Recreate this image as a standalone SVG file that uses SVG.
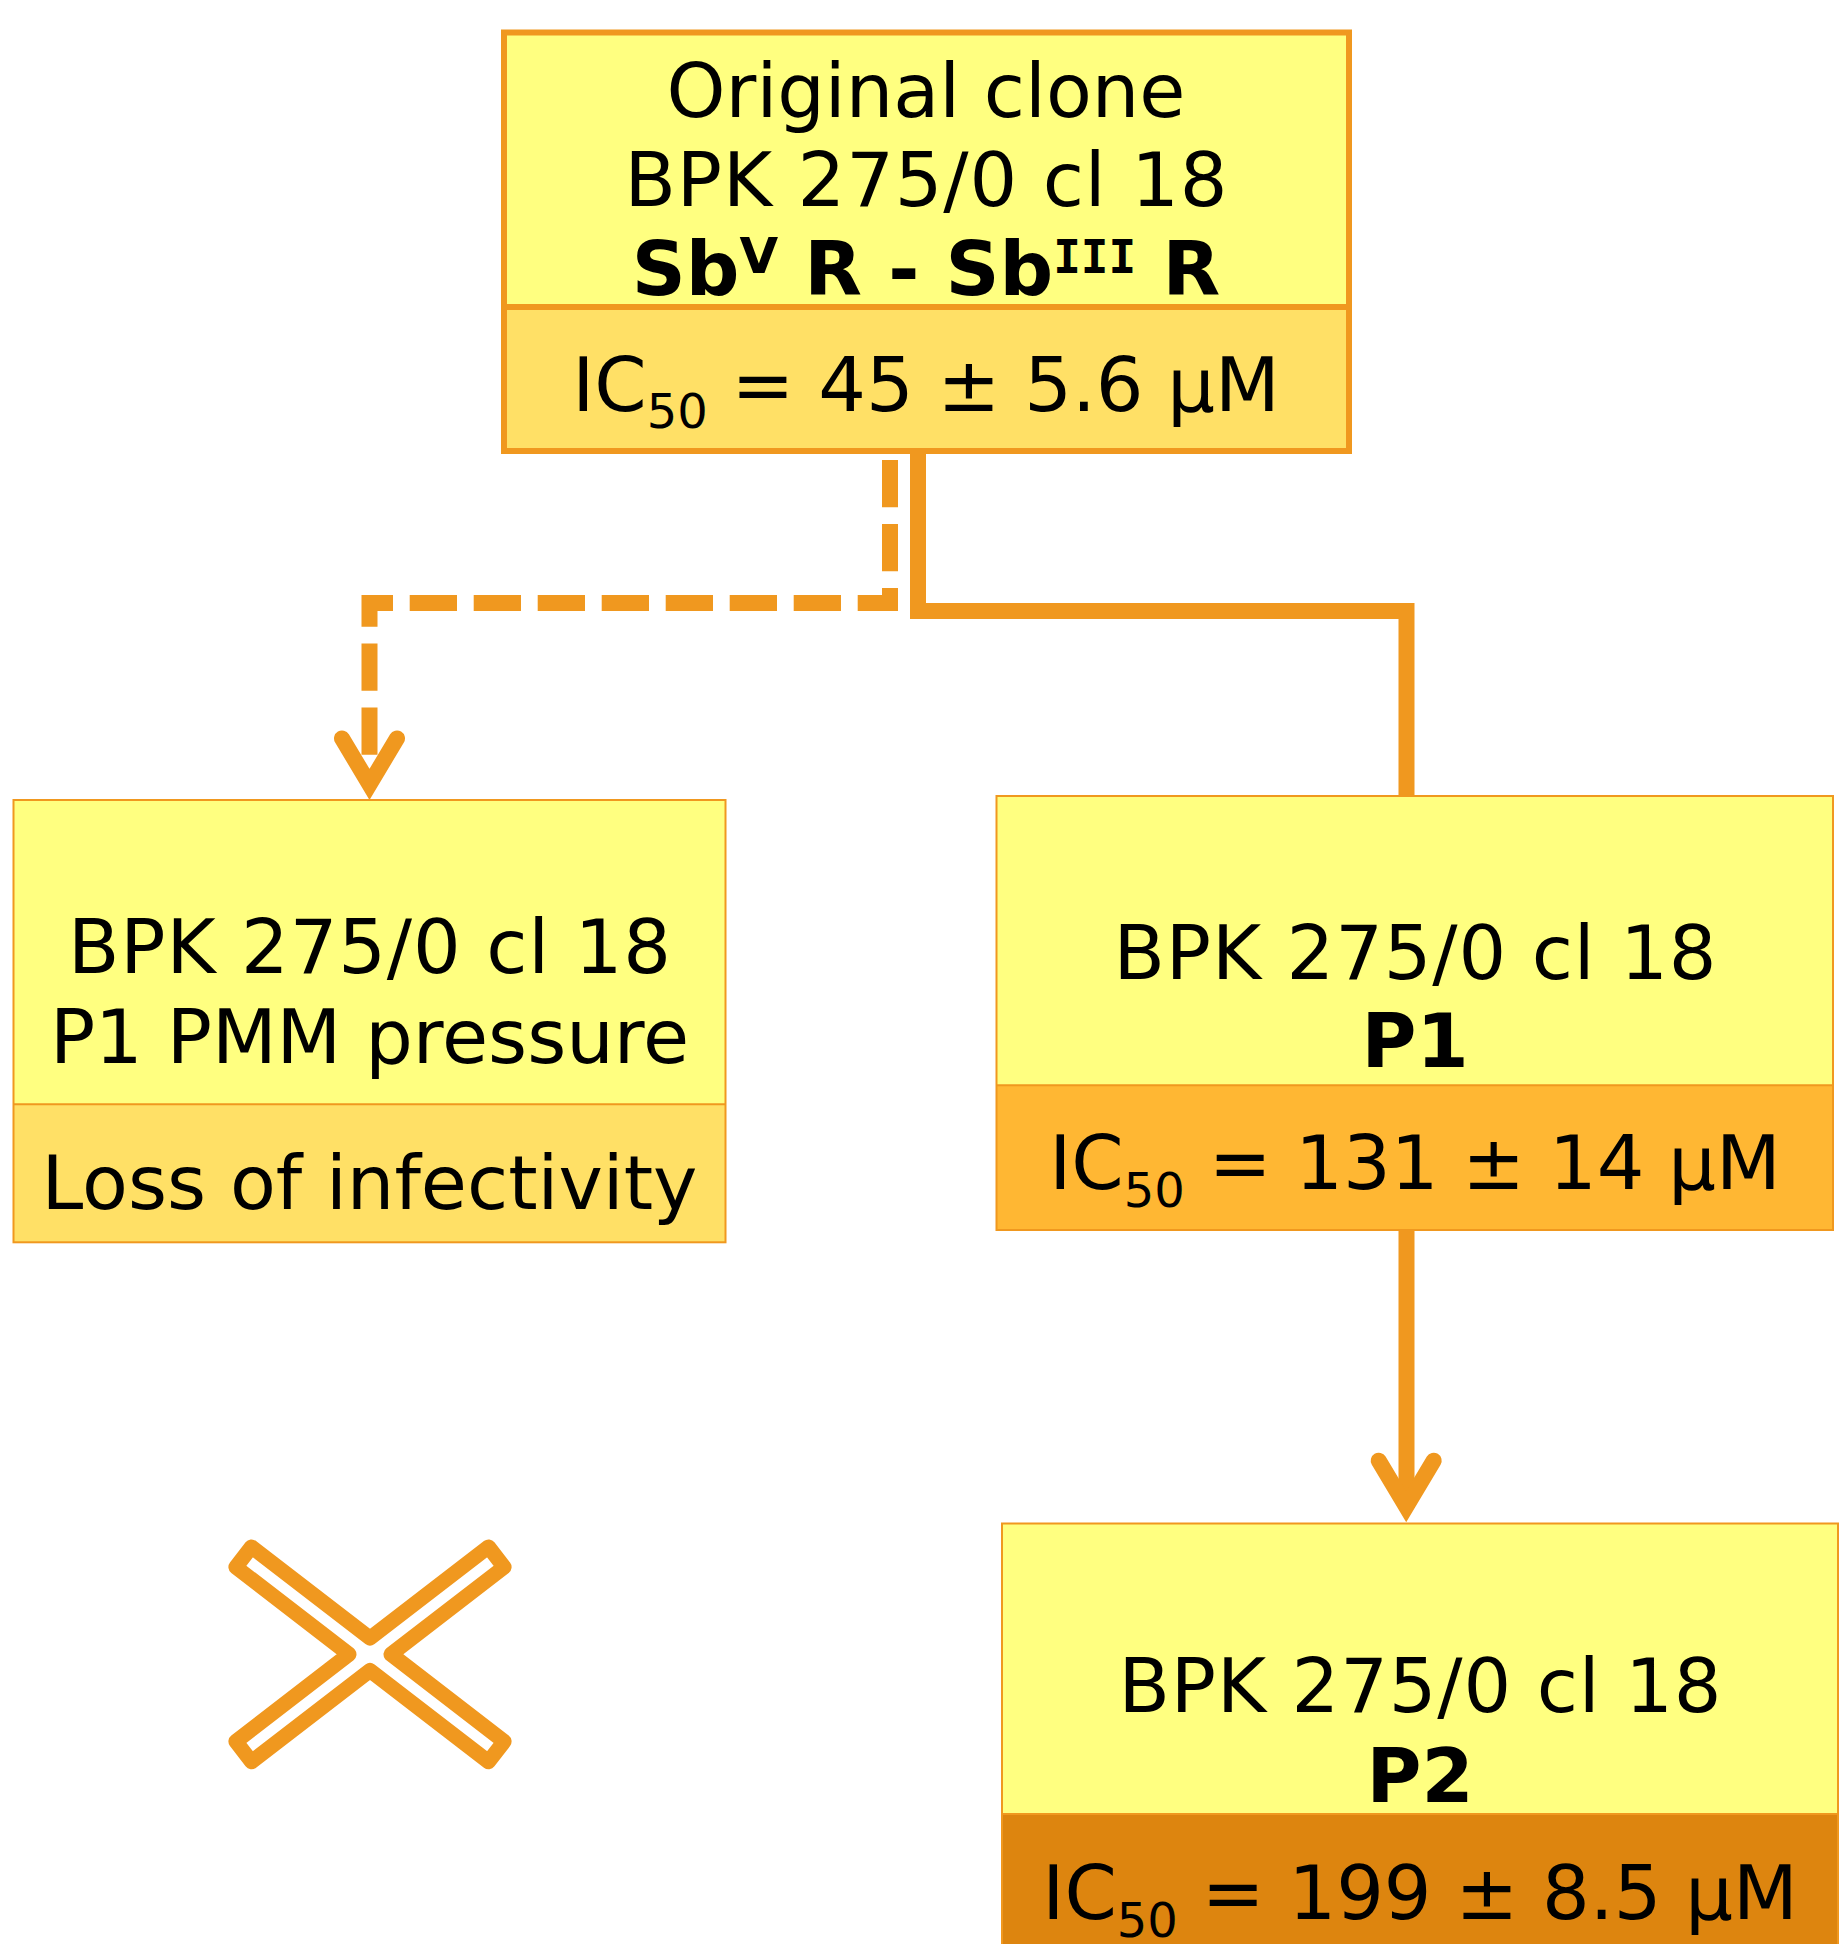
<svg xmlns="http://www.w3.org/2000/svg" width="1839" height="1944" viewBox="0 0 1839 1944">
<style>
.t{font-family:"DejaVu Sans","Verdana","Liberation Sans",sans-serif;font-size:75px;fill:#000;text-anchor:middle}
.b{font-weight:bold}
.sub{font-size:48px}
.sup{font-size:50px}
.supm{font-family:"DejaVu Sans Mono","Liberation Mono",monospace;font-size:46px}
.hi{fill:#FFFF80}
.thin{stroke:#F0981F;stroke-width:2}
.thick{stroke:#F0981F;stroke-width:6}
.conn{fill:none;stroke:#F0981F;stroke-width:16}
.head{fill:none;stroke:#F0981F;stroke-width:16;stroke-linecap:round;stroke-linejoin:miter}
</style>
<rect width="1839" height="1944" fill="#fff"/>

<g id="node-original">
<rect x="504" y="32.5" width="845" height="274.5" class="hi"/>
<rect x="504" y="307" width="845" height="144" fill="#FFE066"/>
<rect x="504" y="32.5" width="845" height="418.5" fill="none" class="thick"/>
<line x1="504" y1="307" x2="1349" y2="307" class="thick"/>
<text class="t" x="926" y="116.7">Original clone</text>
<text class="t" x="926" y="205.7" textLength="603" lengthAdjust="spacing">BPK 275/0 cl 18</text>
<text class="t b" x="926" y="295">Sb<tspan class="sup" dy="-22">V</tspan><tspan dy="22"> R - Sb</tspan><tspan class="supm" dy="-22">III</tspan><tspan dy="22"> R</tspan></text>
<text class="t" x="926" y="410.7">IC<tspan class="sub" dy="17.6">50</tspan><tspan dy="-17.6"> = 45 ± 5.6 µM</tspan></text>
</g>

<g id="node-pmm">
<rect x="13.5" y="800" width="712" height="304.3" class="hi"/>
<rect x="13.5" y="1104.3" width="712" height="138" fill="#FFE066"/>
<rect x="13.5" y="800" width="712" height="442.3" fill="none" class="thin"/>
<line x1="13.5" y1="1104.3" x2="725.5" y2="1104.3" class="thin"/>
<text class="t" x="369.5" y="973.3" textLength="603" lengthAdjust="spacing">BPK 275/0 cl 18</text>
<text class="t" x="369.5" y="1062.7">P1 PMM pressure</text>
<text class="t" x="369.5" y="1209.3">Loss of infectivity</text>
</g>

<g id="node-p1">
<rect x="996.5" y="796" width="836.5" height="289.3" class="hi"/>
<rect x="996.5" y="1085.3" width="836.5" height="144.7" fill="#FFB733"/>
<rect x="996.5" y="796" width="836.5" height="434" fill="none" class="thin"/>
<line x1="996.5" y1="1085.3" x2="1833" y2="1085.3" class="thin"/>
<text class="t" x="1415" y="979" textLength="603" lengthAdjust="spacing">BPK 275/0 cl 18</text>
<text class="t b" x="1415" y="1067.3">P1</text>
<text class="t" x="1415" y="1189.3">IC<tspan class="sub" dy="17.6">50</tspan><tspan dy="-17.6"> = 131 ± 14 µM</tspan></text>
</g>

<g id="node-p2">
<rect x="1002" y="1523.5" width="836" height="290.5" class="hi"/>
<rect x="1002" y="1814" width="836" height="150" fill="#DD850F"/>
<rect x="1002" y="1523.5" width="836" height="440" fill="none" class="thin"/>
<line x1="1002" y1="1814" x2="1838" y2="1814" class="thin"/>
<text class="t" x="1420" y="1711.6" textLength="603" lengthAdjust="spacing">BPK 275/0 cl 18</text>
<text class="t b" x="1420" y="1801.8">P2</text>
<text class="t" x="1420" y="1919.4">IC<tspan class="sub" dy="17.6">50</tspan><tspan dy="-17.6"> = 199 ± 8.5 µM</tspan></text>
</g>

<g id="cross">
<polygon points="370,1638.1 488.5,1546.9 504.1,1567.1 391,1654.3 504.1,1741.5 488.5,1761.7 370,1670.5 251.5,1761.7 235.9,1741.5 349,1654.3 235.9,1567.1 251.5,1546.9" fill="none" stroke="#F0981F" stroke-width="15" stroke-linejoin="round"/>
</g>

<g id="connectors">
<path class="conn" d="M918,451 V611 H1406.5 V796"/>
<path class="conn" d="M1406.5,1230 V1508"/>
<polyline class="head" points="1378.7,1460.7 1406.2,1506.7 1433.7,1460.7"/>
<path class="conn" d="M890,460 V603 H369.5 V768" stroke-dasharray="47.3 16.7"/>
<polyline class="head" points="342,738.4 369.5,784.4 397,738.4"/>
</g>
</svg>
